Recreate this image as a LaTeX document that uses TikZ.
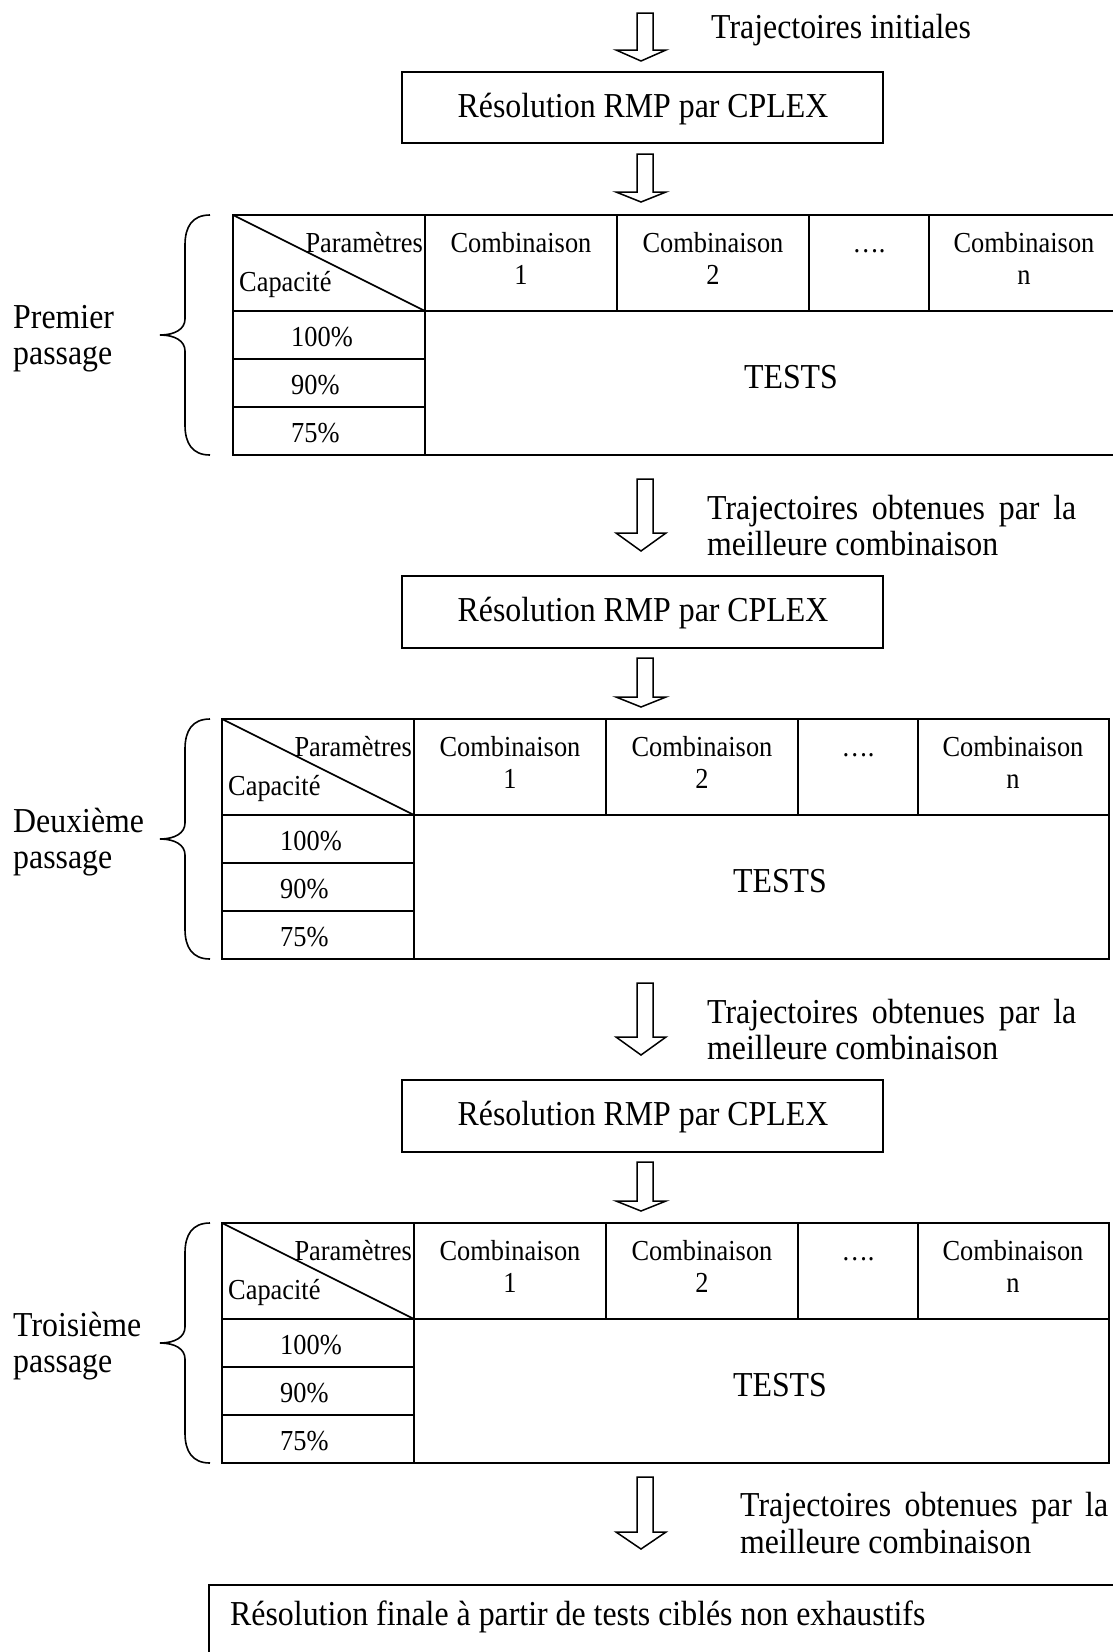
\documentclass[tikz,border=0pt]{standalone}
\usepackage{fontspec}
\setmainfont{Liberation Serif}[FakeStretch=0.91]
\tikzset{
  tabline/.style={line width=2.3pt},
  boxline/.style={draw, line width=2.3pt, inner sep=0pt},
  blockarrow/.style={draw, line width=1.5pt, line join=miter, fill=white},
  bracepath/.style={line width=1.6pt},
  bigtxt/.style={font=\fontsize{35}{38}\selectfont, inner sep=0pt},
  smalltxt/.style={font=\fontsize{29}{31}\selectfont, inner sep=0pt},
}
% #1 prefix, #2 left x, #3 top y, #4 label line 1, #5 label line 2
\newcommand{\passtab}[5]{%
  \begin{scope}[shift={(#2,#3)}]
    \draw[tabline] (0,0) rectangle (887,240);
    \draw[tabline] (192,0) -- (192,240);
    \draw[tabline] (0,96) -- (887,96);
    \draw[tabline] (0,144) -- (192,144);
    \draw[tabline] (0,192) -- (192,192);
    \draw[tabline] (384,0) -- (384,96);
    \draw[tabline] (576,0) -- (576,96);
    \draw[tabline] (696,0) -- (696,96);
    \draw[line width=1.6pt] (0,0) -- (192,96);
    \node[smalltxt, anchor=base east] (#1par) at (190,37) {Paramètres};
    \node[smalltxt, anchor=base west] (#1cap) at (6,76) {Capacité};
    \node[smalltxt, anchor=base] (#1ca) at (288,37) {Combinaison};
    \node[smalltxt, anchor=base] (#1cb) at (288,69) {1};
    \node[smalltxt, anchor=base] (#1cc) at (480,37) {Combinaison};
    \node[smalltxt, anchor=base] (#1cd) at (480,69) {2};
    \node[smalltxt, anchor=base] (#1dots) at (636,37) {….};
    \node[smalltxt, anchor=base] (#1ce) at (791,37) {Combinaison};
    \node[smalltxt, anchor=base] (#1cf) at (791,69) {n};
    \node[smalltxt, anchor=base west] (#1pa) at (58,131) {100\%};
    \node[smalltxt, anchor=base west] (#1pb) at (58,179) {90\%};
    \node[smalltxt, anchor=base west] (#1pc) at (58,227) {75\%};
    \node[bigtxt, anchor=base] (#1tests) at (558,173) {TESTS};
  \end{scope}
  \begin{scope}[shift={(0,#3)}]
    \draw[bracepath] (210,0) .. controls (192,0) and (185,12) .. (185,30)
      -- (185,104) .. controls (185,114) and (175,120) .. (160,120)
      .. controls (175,120) and (185,126) .. (185,136)
      -- (185,210) .. controls (185,228) and (192,240) .. (210,240);
    \node[bigtxt, anchor=base west] (#1la) at (13,113) {#4};
    \node[bigtxt, anchor=base west] (#1lb) at (13,149) {#5};
  \end{scope}
}
% #1 top, #2 head start, #3 tip
\newcommand{\barrow}[3]{%
  \draw[blockarrow] (637,#1) -- (653,#1) -- (653,#2) -- (666,#2) -- (641,#3)
    -- (616,#2) -- (637,#2) -- cycle;
}
\begin{document}
\begin{tikzpicture}[x=1pt,y=-1pt]
  \useasboundingbox (0,0) rectangle (1112,1652);
  \fill[white] (0,0) rectangle (1112,1652);

  % top
  \barrow{13}{50}{61}
  \node[bigtxt, anchor=base west] (tinit) at (711,38) {Trajectoires initiales};
  \node[boxline, anchor=north west, minimum width=481pt, minimum height=71pt] (rmp1) at (401,71) {};
  \node[bigtxt, anchor=base] (rmp1t) at (643,117) {Résolution RMP par CPLEX};
  \barrow{154}{192}{202}

  \passtab{a}{233}{215}{Premier}{passage}

  \barrow{479}{533}{551}
  \node[bigtxt, anchor=base west] (tb1) at (707,519) {\makebox[369pt][s]{Trajectoires obtenues par la}};
  \node[bigtxt, anchor=base west] (tb2) at (707,555) {meilleure combinaison};
  \node[boxline, anchor=north west, minimum width=481pt, minimum height=72pt] (rmp2) at (401,575) {};
  \node[bigtxt, anchor=base] (rmp2t) at (643,621) {Résolution RMP par CPLEX};
  \barrow{658}{697}{707}

  \passtab{b}{222}{719}{Deuxième}{passage}

  \barrow{983}{1037}{1055}
  \node[bigtxt, anchor=base west] (tc1) at (707,1023) {\makebox[369pt][s]{Trajectoires obtenues par la}};
  \node[bigtxt, anchor=base west] (tc2) at (707,1059) {meilleure combinaison};
  \node[boxline, anchor=north west, minimum width=481pt, minimum height=72pt] (rmp3) at (401,1079) {};
  \node[bigtxt, anchor=base] (rmp3t) at (643,1125) {Résolution RMP par CPLEX};
  \barrow{1162}{1201}{1211}

  \passtab{c}{222}{1223}{Troisième}{passage}

  \barrow{1477}{1532}{1549}
  \node[bigtxt, anchor=base west] (td1) at (740,1516) {\makebox[368pt][s]{Trajectoires obtenues par la}};
  \node[bigtxt, anchor=base west] (td2) at (740,1553) {meilleure combinaison};

  \node[boxline, anchor=north west, minimum width=930pt, minimum height=120pt] (final) at (208,1584) {};
  \node[bigtxt, anchor=base west] (finalt) at (230,1625) {Résolution finale à partir de tests ciblés non exhaustifs};
\end{tikzpicture}
\end{document}
